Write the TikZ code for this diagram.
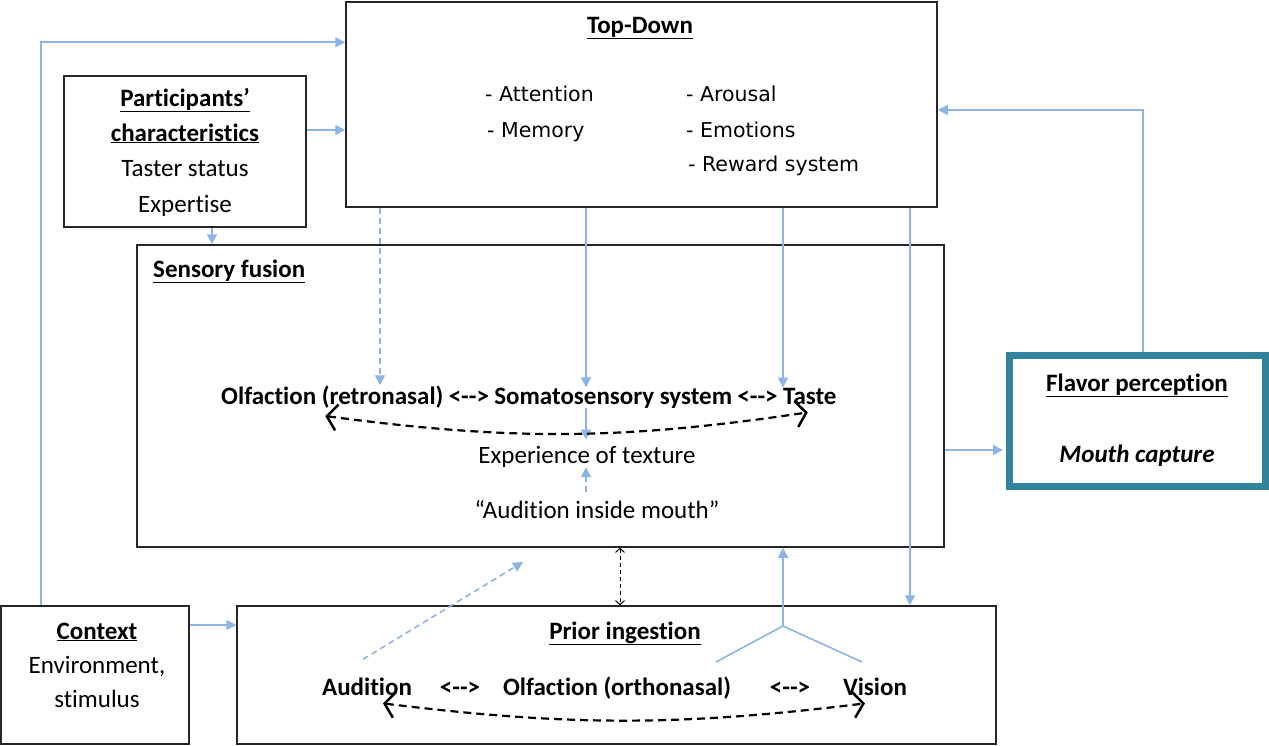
\documentclass[tikz,border=0pt]{standalone}
\usepackage{fontspec}
\setmainfont{Carlito}[Ligatures={TeX,NoCommon}]
\newfontfamily\listfont{DejaVu Sans}
\usetikzlibrary{arrows.meta,positioning}

\definecolor{linkblue}{HTML}{8EB4E3}
\definecolor{flavorteal}{HTML}{31849B}
\definecolor{boxgray}{HTML}{262626}

\tikzset{
  box/.style={draw=boxgray, line width=1.5pt, inner sep=0pt},
  txt/.style={inner sep=0pt, anchor=base, font=\fontsize{25}{29}\selectfont},
  head/.style={txt, font=\fontsize{25}{29}\selectfont\bfseries},
  item/.style={inner sep=0pt, anchor=base west, font=\fontsize{20.5}{24}\selectfont\listfont},
  link/.style={draw=linkblue, line width=1.6pt, -{Triangle[length=10pt,width=10pt]}},
  dlink/.style={link, dash pattern=on 6pt off 4pt},
  swap/.style={draw=black, line width=2.2pt, dash pattern=on 8pt off 5pt,
    {Straight Barb[length=10pt,width=26pt,line width=2.5pt]}-{Straight Barb[length=10pt,width=26pt,line width=2.5pt]}},
  tie/.style={draw=black, line width=1pt, dash pattern=on 4pt off 3pt,
    {Straight Barb[length=4pt,width=9pt]}-{Straight Barb[length=4pt,width=9pt]}}
}

\begin{document}
\begin{tikzpicture}[x=1pt,y=-1pt]
  \useasboundingbox (0,0) rectangle (1269,745);

  % boxes
  \node[box, minimum width=591, minimum height=205] (topdown) at (641.5,104.5) {};
  \node[box, minimum width=242, minimum height=151] (partic) at (185,151.5) {};
  \node[box, minimum width=807, minimum height=302] (fusion) at (540.5,396) {};
  \node[box, draw=flavorteal, line width=7pt, minimum width=256, minimum height=131] (flavor) at (1137.5,421) {};
  \node[box, minimum width=188, minimum height=138] (context) at (95,675) {};
  \node[box, minimum width=759, minimum height=138] (prior) at (616.5,675) {};

  % top-down
  \node[head] (tdtitle) at (640,33) {\underline{Top-Down}};
  \node[item] (attn) at (485,101) {- Attention};
  \node[item] (memo) at (487,137) {- Memory};
  \node[item] (arou) at (686,101) {- Arousal};
  \node[item] (emot) at (686,137) {- Emotions};
  \node[item] (rewd) at (688,171) {- Reward system};

  % participants
  \node[head] (ptitle) at (185,106) {\underline{Participants’}};
  \node[head] (ptitleb) at (185,141) {\underline{characteristics}};
  \node[txt] (taster) at (185,176) {Taster status};
  \node[txt] (expert) at (185,212) {Expertise};

  % sensory fusion
  \node[head, anchor=base west] (ftitle) at (153,277) {\underline{Sensory fusion}};
  \node[head, anchor=base west] (olf) at (221,404) {Olfaction (retronasal)};
  \node[head, base right=5pt of olf] (arra) {<-{}->};
  \node[head, base right=5pt of arra] (soma) {Somatosensory system};
  \node[head, base right=5pt of soma] (arrb) {<-{}->};
  \node[head, base right=5pt of arrb] (taste) {Taste};
  \node[txt] (exper) at (587,463) {Experience of texture};
  \node[txt] (audm) at (597,518) {“Audition inside mouth”};

  % flavor
  \node[head] (flavtitle) at (1137,391) {\underline{Flavor perception}};
  \node[head] (mouth) at (1137,462) {\textit{Mouth capture}};

  % context
  \node[head] (ctitle) at (97,639) {\underline{Context}};
  \node[txt] (envir) at (97,673) {Environment,};
  \node[txt] (stim) at (97,707) {stimulus};

  % prior ingestion
  \node[head] (prtitle) at (625,639) {\underline{Prior ingestion}};
  \node[head] (aud) at (367,695) {Audition};
  \node[head] (arrc) at (460,695) {<-{}->};
  \node[head] (orth) at (617,695) {Olfaction (orthonasal)};
  \node[head] (arrd) at (790,695) {<-{}->};
  \node[head] (vis) at (875,695) {Vision};

  \coordinate (fork) at (783,626);
  \coordinate (orthtop) at (716,662);
  \coordinate (vistop) at (862,662);
  \coordinate (audtip) at (523,562);

  % blue links
  \draw[link] ([xshift=41pt]context.north west) |- ([yshift=-41pt]topdown.north west);
  \draw[link] (partic.east |- 0,130) -- (topdown.west |- 0,130);
  \draw[link] (partic.south -| 212,0) -- (fusion.north -| 212,0);
  \draw[dlink] (topdown.south -| 380,0) -- (olf.north -| 380,0);
  \draw[link] (topdown.south -| 586,0) -- (soma.north -| 586,0);
  \draw[link] (topdown.south -| 783,0) -- (taste.north -| 783,0);
  \draw[link] (topdown.south -| 910,0) -- (prior.north -| 910,0);
  \draw[link] (flavor.north -| 1143,0) |- (topdown.east |- 0,110);
  \draw[link, shorten >=3pt] (fusion.east |- 0,450) -- (flavor.west |- 0,450);
  \draw[link] (context.east |- 0,625) -- (prior.west |- 0,625);
  \draw[link, shorten >=6pt] (soma.south -| 586,0) -- (exper.north -| 586,0);
  \draw[dlink, shorten <=8pt] (audm.north -| 586,0) -- (exper.south -| 586,0);
  \draw[dlink] ([xshift=-4pt,yshift=18pt]aud.north) -- (audtip);
  \draw[draw=linkblue, line width=1.6pt] (orthtop) -- (fork) -- (vistop);
  \draw[link] (fork) -- (fork |- fusion.south);

  % black dashed swaps
  \draw[swap] ([xshift=-7pt,yshift=-8pt]olf.south) to[bend right=8] ([xshift=-2pt,yshift=-8pt]taste.south);
  \draw[swap] ([xshift=16pt,yshift=-8pt]aud.south) to[bend right=7] ([xshift=-10pt,yshift=-8pt]vis.south);
  \draw[tie] (fusion.south -| 620,0) -- (prior.north -| 620,0);
\end{tikzpicture}
\end{document}
